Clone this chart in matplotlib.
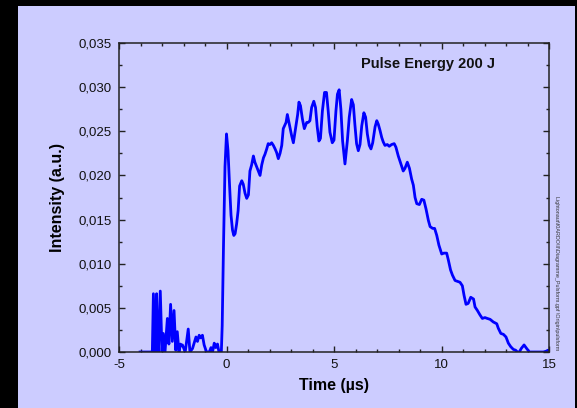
import numpy as np
import matplotlib
matplotlib.use('Agg')
import matplotlib.pyplot as plt
from matplotlib.patches import Rectangle
from matplotlib.ticker import MultipleLocator, FuncFormatter

plt.rcParams['font.family'] = ['Liberation Sans', 'DejaVu Sans']

BG = '#CCCCFF'
LINE = '#0000FF'

# pulse trace: time (µs), intensity (a.u.)
time = [
    -4.02, -3.56, -3.45, -3.40, -3.32, -3.25, -3.20, -3.16, -3.08, -3.00,
    -2.94, -2.86, -2.75, -2.68, -2.60, -2.52, -2.44, -2.36, -2.29, -2.21,
    -2.14, -2.09, -2.05, -1.92, -1.78, -1.70, -1.58, -1.42, -1.35, -1.27,
    -1.20, -1.12, -1.04, -0.93, -0.80, -0.72, -0.65, -0.57, -0.50, -0.42,
    -0.35, -0.24, -0.20, -0.14, -0.07, 0.00, 0.07, 0.14, 0.21, 0.28,
    0.34, 0.40, 0.47, 0.54, 0.61, 0.71, 0.78, 0.86, 0.94, 1.02,
    1.09, 1.17, 1.25, 1.32, 1.40, 1.48, 1.56, 1.64, 1.72, 1.79,
    1.87, 1.94, 2.02, 2.10, 2.18, 2.26, 2.33, 2.41, 2.49, 2.57,
    2.64, 2.77, 2.83, 2.92, 3.03, 3.11, 3.23, 3.31, 3.37, 3.44,
    3.53, 3.62, 3.73, 3.80, 3.88, 3.96, 4.06, 4.14, 4.22, 4.30,
    4.37, 4.46, 4.56, 4.65, 4.73, 4.81, 4.92, 5.00, 5.09, 5.16,
    5.24, 5.32, 5.40, 5.51, 5.62, 5.71, 5.82, 5.90, 5.97, 6.05,
    6.13, 6.21, 6.29, 6.39, 6.47, 6.55, 6.64, 6.72, 6.80, 6.91,
    6.99, 7.06, 7.14, 7.22, 7.29, 7.37, 7.48, 7.57, 7.68, 7.80,
    7.88, 7.99, 8.10, 8.22, 8.30, 8.41, 8.51, 8.61, 8.69, 8.77,
    8.85, 8.97, 9.08, 9.18, 9.28, 9.39, 9.47, 9.59, 9.68, 9.78,
    9.88, 10.01, 10.11, 10.24, 10.32, 10.42, 10.51, 10.63, 10.74, 10.86,
    10.97, 11.05, 11.14, 11.24, 11.36, 11.49, 11.56, 11.67, 11.79, 11.90,
    12.02, 12.13, 12.26, 12.41, 12.57, 12.64, 12.76, 12.88, 13.00, 13.11,
    13.22, 13.34, 13.45, 13.53, 13.62, 13.71, 13.84, 13.96, 14.09, 14.28,
    14.74, 14.88, 14.95, 15.00,
]
intensity = [
    0.0000, 0.0000, 0.0000, 0.0066, 0.0000, 0.0066, 0.0000, 0.0000, 0.0069, 0.0000,
    0.0021, 0.0000, 0.0038, 0.0009, 0.0054, 0.0012, 0.0047, 0.0002, 0.0023, 0.0000,
    0.0009, 0.0007, 0.0008, 0.0000, 0.0026, 0.0000, 0.0004, 0.0017, 0.0012, 0.0019,
    0.0016, 0.0019, 0.0008, 0.0000, 0.0000, 0.0005, 0.0000, 0.0010, 0.0005, 0.0009,
    0.0000, 0.0000, 0.0030, 0.0120, 0.0210, 0.0247, 0.0228, 0.0190, 0.0155, 0.0138,
    0.0132, 0.0134, 0.0145, 0.0160, 0.0188, 0.0194, 0.0190, 0.0180, 0.0174, 0.0178,
    0.0205, 0.0212, 0.0222, 0.0215, 0.0210, 0.0205, 0.0200, 0.0212, 0.0220, 0.0224,
    0.0230, 0.0236, 0.0235, 0.0237, 0.0234, 0.0230, 0.0226, 0.0219, 0.0225, 0.0234,
    0.0253, 0.0260, 0.0269, 0.0258, 0.0245, 0.0237, 0.0256, 0.0269, 0.0283, 0.0279,
    0.0264, 0.0253, 0.0260, 0.0260, 0.0262, 0.0277, 0.0284, 0.0277, 0.0255, 0.0239,
    0.0242, 0.0273, 0.0294, 0.0294, 0.0273, 0.0249, 0.0237, 0.0240, 0.0273, 0.0292,
    0.0297, 0.0275, 0.0239, 0.0213, 0.0239, 0.0266, 0.0286, 0.0280, 0.0258, 0.0236,
    0.0228, 0.0235, 0.0256, 0.0271, 0.0266, 0.0247, 0.0234, 0.0230, 0.0237, 0.0255,
    0.0262, 0.0258, 0.0251, 0.0243, 0.0238, 0.0234, 0.0235, 0.0233, 0.0235, 0.0236,
    0.0232, 0.0222, 0.0214, 0.0205, 0.0208, 0.0215, 0.0208, 0.0196, 0.0189, 0.0175,
    0.0168, 0.0167, 0.0173, 0.0172, 0.0162, 0.0149, 0.0142, 0.0140, 0.0140, 0.0132,
    0.0121, 0.0111, 0.0112, 0.0112, 0.0104, 0.0093, 0.0087, 0.0081, 0.0080, 0.0079,
    0.0075, 0.0064, 0.0054, 0.0055, 0.0062, 0.0060, 0.0051, 0.0047, 0.0042, 0.0038,
    0.0039, 0.0038, 0.0037, 0.0034, 0.0032, 0.0027, 0.0021, 0.0020, 0.0017, 0.0010,
    0.0006, 0.0003, 0.0002, 0.0000, 0.0000, 0.0004, 0.0008, 0.0004, 0.0000, 0.0000,
    0.0000, 0.0001, 0.0002, 0.0001,
]

fig = plt.figure(figsize=(5.77, 4.08), dpi=100, facecolor='black')
# lavender panel inside the black frame
panel = Rectangle((18 / 577, 0), 557 / 577, 402 / 408,
                  transform=fig.transFigure, facecolor=BG,
                  edgecolor='none', zorder=-10)
fig.add_artist(panel)

ax = fig.add_axes([119 / 577, 1 - 352 / 408, 430 / 577, 309 / 408])
ax.set_zorder(5)
ax.set_facecolor(BG)
ax.plot(time, intensity, color=LINE, lw=2.0, solid_joinstyle='round')

ax.set_xlim(-5, 15)
ax.set_ylim(0, 0.035)
ax.xaxis.set_major_locator(MultipleLocator(5))
ax.xaxis.set_minor_locator(MultipleLocator(1))
ax.yaxis.set_major_locator(MultipleLocator(0.005))
ax.yaxis.set_minor_locator(MultipleLocator(0.0025))
ax.yaxis.set_major_formatter(FuncFormatter(lambda v, p: f'{v:.3f}'.replace('.', ',')))
ax.xaxis.set_major_formatter(FuncFormatter(lambda v, p: f'{v:g}'))

for s in ax.spines.values():
    s.set_linewidth(1.1)
    s.set_color('#222222')
ax.tick_params(which='both', direction='in', top=True, right=True,
               color='#222222', width=1.0, labelsize=9.5, labelcolor='#111111')
ax.tick_params(which='major', length=4.5, pad=5)
ax.tick_params(which='minor', length=2.3)

ax.set_xlabel('Time (µs)', fontsize=11.5, fontweight='bold', labelpad=5)
ax.set_ylabel('Intensity (a.u.)', fontsize=11.5, fontweight='bold', labelpad=10)

ax.text(0.719, 0.932, 'Pulse Energy 200 J', transform=ax.transAxes,
        fontsize=10.5, fontweight='bold', ha='center', va='center', color='#111111')

fig.text(557 / 577, 1 - 273 / 408,
         'Lightonaut\\f0ARDO\\II\\Diagramme_Pulsform.gpf \\Origin\\pulsform',
         rotation=270, fontsize=3.9, ha='center', va='center', color='#333333')

fig.savefig('out.png', dpi=100, facecolor=fig.get_facecolor())
